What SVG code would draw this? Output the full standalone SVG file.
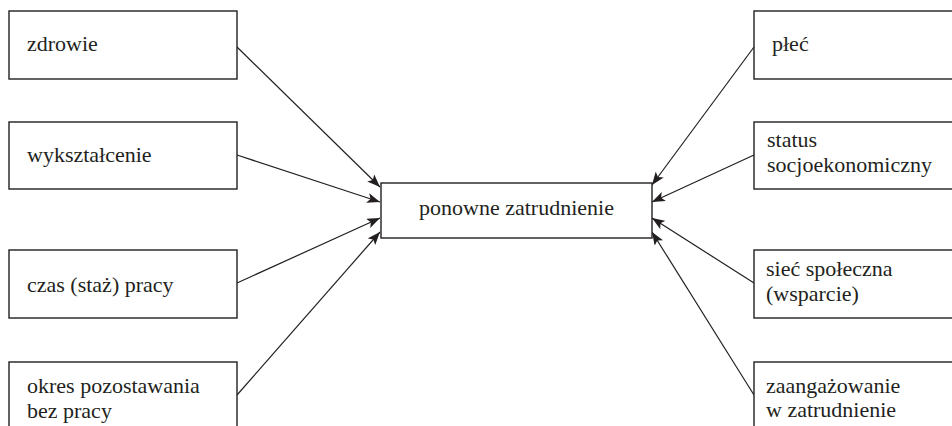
<svg xmlns="http://www.w3.org/2000/svg" width="952" height="426" viewBox="0 0 952 426">
<style>
.box{fill:#fff;stroke:#231f20;stroke-width:1.4}
text{font-family:'Liberation Serif','Times New Roman',Times,serif;font-size:22px;fill:#231f20}
.c{stroke:#231f20;stroke-width:1.2;fill:none;marker-end:url(#ah)}
</style>
<defs>
<marker id="ah" markerUnits="userSpaceOnUse" markerWidth="14" markerHeight="10" refX="13" refY="5" orient="auto" viewBox="0 0 14 10">
<path d="M0,0 L13,5 L0,10 L3,5 Z" fill="#231f20"/>
</marker>
</defs>
<rect width="952" height="426" fill="#fff"/>
<g id="connectors">
<line class="c" x1="237" y1="47" x2="380" y2="187"/>
<line class="c" x1="237" y1="155" x2="380" y2="202"/>
<line class="c" x1="237" y1="283" x2="380" y2="218"/>
<line class="c" x1="237" y1="395" x2="380" y2="232"/>
<line class="c" x1="754" y1="47" x2="652" y2="185"/>
<line class="c" x1="754" y1="155" x2="652" y2="202"/>
<line class="c" x1="754" y1="283" x2="652" y2="218"/>
<line class="c" x1="754" y1="395" x2="652" y2="232"/>
</g>
<g id="center">
<rect class="box" x="381" y="183" width="271" height="55"/>
<text x="516.5" y="215" text-anchor="middle">ponowne zatrudnienie</text>
</g>
<g id="zdrowie">
<rect class="box" x="9" y="11" width="228" height="68"/>
<text x="27" y="51">zdrowie</text>
</g>
<g id="wyksztalcenie">
<rect class="box" x="9" y="122" width="228" height="67"/>
<text x="27" y="162">wykształcenie</text>
</g>
<g id="czas">
<rect class="box" x="9" y="250" width="228" height="68"/>
<text x="27" y="292">czas (staż) pracy</text>
</g>
<g id="okres">
<rect class="box" x="9" y="362" width="228" height="90"/>
<text x="27" y="393">okres pozostawania</text>
<text x="27" y="418">bez pracy</text>
</g>
<g id="plec">
<rect class="box" x="754" y="11" width="220" height="68"/>
<text x="772" y="51">płeć</text>
</g>
<g id="status">
<rect class="box" x="754" y="122" width="220" height="67"/>
<text x="767" y="147">status</text>
<text x="767" y="172">socjoekonomiczny</text>
</g>
<g id="siec">
<rect class="box" x="754" y="250" width="220" height="68"/>
<text x="766" y="276">sieć społeczna</text>
<text x="766" y="301">(wsparcie)</text>
</g>
<g id="zaangazowanie">
<rect class="box" x="754" y="362" width="220" height="90"/>
<text x="766" y="393">zaangażowanie</text>
<text x="766" y="417">w zatrudnienie</text>
</g>
</svg>
